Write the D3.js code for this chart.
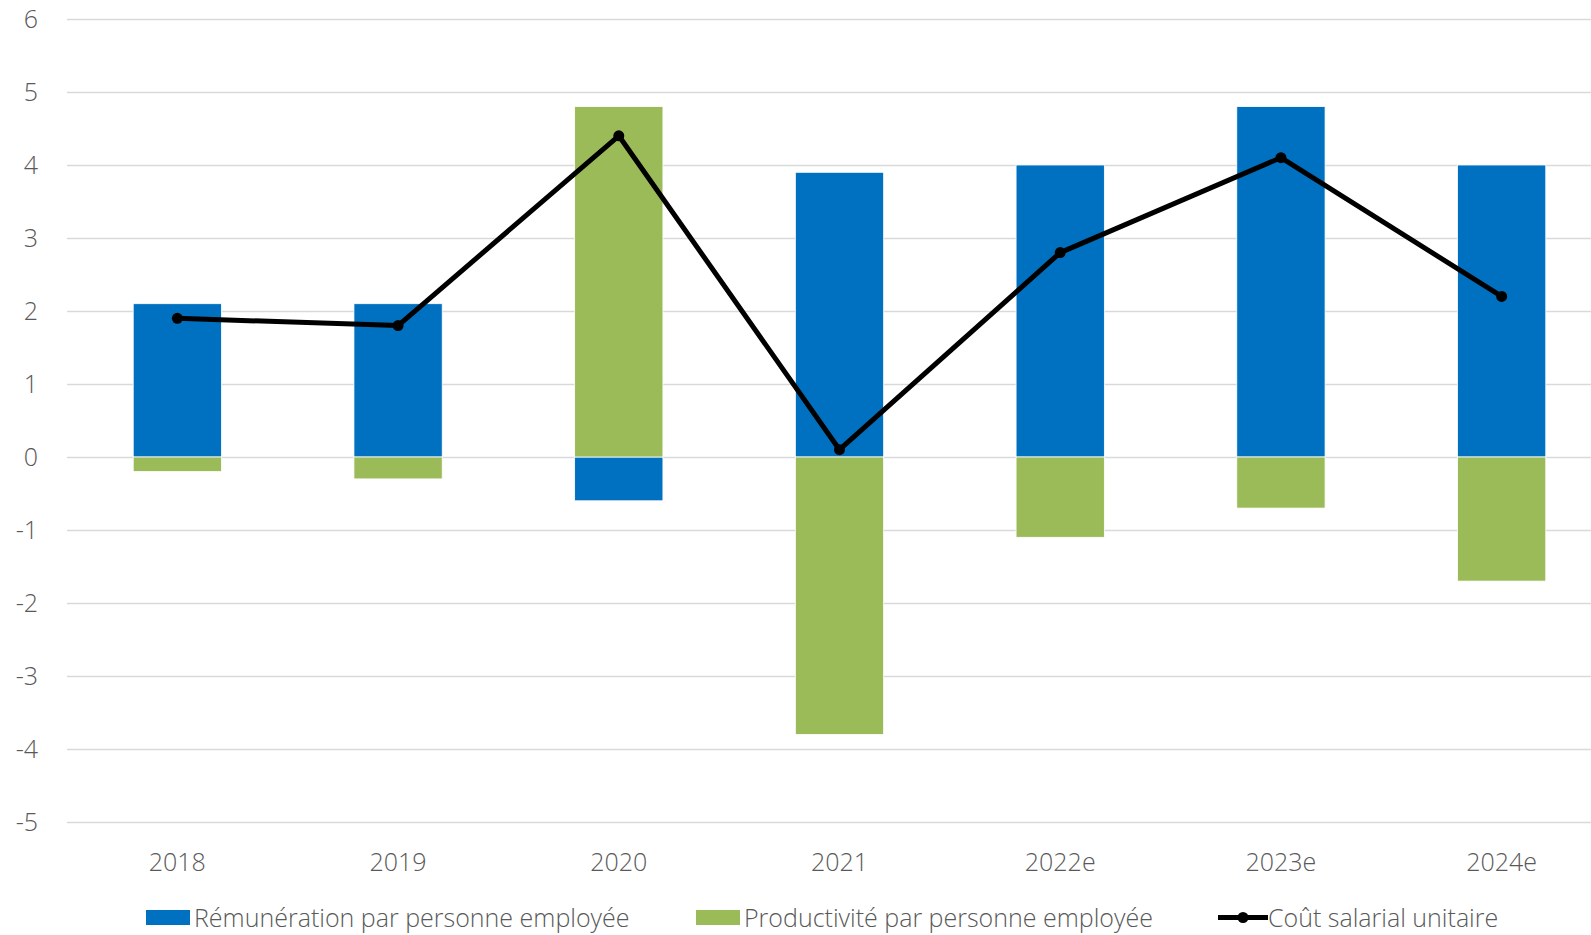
<!DOCTYPE html>
<html>
<head>
<meta charset="utf-8">
<script src="https://cdn.jsdelivr.net/npm/d3@7"></script>
<style>
  body { margin: 0; background: #fff; }
  text { font-family: "Open Sans", "Segoe UI", sans-serif; font-weight: 300; fill: #595959; }
</style>
</head>
<body>
<div id="chart"></div>
<script>
// chart values
var years = ["2018", "2019", "2020", "2021", "2022e", "2023e", "2024e"];
var remuneration = [2.1, 2.1, -0.6, 3.9, 4.0, 4.8, 4.0];
var productivite = [-0.2, -0.3, 4.8, -3.8, -1.1, -0.7, -1.7];
var coutSalarial = [1.9, 1.8, 4.4, 0.1, 2.8, 4.1, 2.2];
var yTicks = [-5, -4, -3, -2, -1, 0, 1, 2, 3, 4, 5, 6];
var seriesNames = ["Rémunération par personne employée", "Productivité par personne employée", "Coût salarial unitaire"];

window.onload = function() {

  var totalW = 1591, totalH = 935;
  var margin = {top: 19, left: 67, bottom: 113};

  var svg = d3.select("#chart")
    .append("svg")
    .attr("width", totalW)
    .attr("height", totalH);

  // band scale runs a little past the right edge, like the original
  var x = d3.scaleBand()
    .domain(years)
    .range([margin.left, 1612])
    .paddingInner(0.6)
    .paddingOuter(0.3);

  var y = d3.scaleLinear()
    .domain([-5, 6])
    .range([totalH - margin.bottom, margin.top]);

  // gridlines + y labels (plain hyphen for negatives, as in the original)
  var yAxis = d3.axisLeft(y)
    .tickValues(yTicks)
    .tickSize(-(totalW - margin.left))
    .tickPadding(29)
    .tickFormat(function(d) { return String(d); });

  var gy = svg.append("g")
    .attr("transform", "translate(" + margin.left + ",0)")
    .call(yAxis);
  gy.select(".domain").remove();
  gy.selectAll("line").attr("stroke", "#d9d9d9").attr("stroke-width", 1.5);
  gy.selectAll("text")
    .style("font-size", "25px")
    .attr("fill", "#595959")
    .attr("dy", "0.34em");

  // stacked bars: positives stack up from 0, negatives stack down
  var stacked = [];
  years.forEach(function(yr, i) {
    var pos = 0, neg = 0;
    [remuneration[i], productivite[i]].forEach(function(v, k) {
      var y0, y1;
      if (v >= 0) { y0 = pos; y1 = pos + v; pos = y1; }
      else { y0 = neg; y1 = neg + v; neg = y1; }
      stacked.push({year: yr, k: k, y0: y0, y1: y1});
    });
  });

  var color = ["#0070C0", "#9BBB59"];

  svg.append("g")
    .selectAll("rect")
    .data(stacked)
    .enter()
    .append("rect")
    .attr("x", function(d) { return x(d.year); })
    .attr("width", x.bandwidth())
    .attr("y", function(d) { return y(Math.max(d.y0, d.y1)); })
    .attr("height", function(d) { return Math.abs(y(d.y0) - y(d.y1)); })
    .attr("fill", function(d) { return color[d.k]; })
    .attr("stroke", "#fff")
    .attr("stroke-width", 0.8);

  // the line series
  var line = d3.line()
    .x(function(d, i) { return x(years[i]) + x.bandwidth() / 2; })
    .y(function(d) { return y(d); });

  svg.append("path")
    .datum(coutSalarial)
    .attr("d", line)
    .attr("fill", "none")
    .attr("stroke", "#000")
    .attr("stroke-width", 5)
    .attr("stroke-linejoin", "round");

  svg.append("g")
    .selectAll("circle")
    .data(coutSalarial)
    .enter()
    .append("circle")
    .attr("cx", function(d, i) { return x(years[i]) + x.bandwidth() / 2; })
    .attr("cy", function(d) { return y(d); })
    .attr("r", 5.5)
    .attr("fill", "#000");

  // x labels
  var xAxis = d3.axisBottom(x).tickSize(0).tickPadding(0);
  var gx = svg.append("g")
    .attr("transform", "translate(0," + 862 + ")")
    .call(xAxis);
  gx.select(".domain").remove();
  gx.selectAll("text")
    .style("font-size", "25px")
    .attr("fill", "#595959")
    .attr("dy", "0.34em");

  // legend
  var legendX = [146, 696, 1218];
  var legend = svg.append("g");
  seriesNames.forEach(function(name, i) {
    var g = legend.append("g").attr("transform", "translate(" + legendX[i] + ",0)");
    if (i < 2) {
      g.append("rect")
        .attr("x", 0).attr("y", 910)
        .attr("width", 44).attr("height", 15)
        .attr("fill", color[i]);
    } else {
      g.append("line")
        .attr("x1", 0).attr("x2", 50)
        .attr("y1", 917.5).attr("y2", 917.5)
        .attr("stroke", "#000").attr("stroke-width", 5);
      g.append("circle").attr("cx", 25).attr("cy", 917.5).attr("r", 5.5).attr("fill", "#000");
    }
    g.append("text")
      .attr("x", i < 2 ? 48 : 50)
      .attr("y", 918)
      .attr("dy", "0.34em")
      .style("font-size", "25px")
      .text(name);
  });
};
</script>
</body>
</html>
